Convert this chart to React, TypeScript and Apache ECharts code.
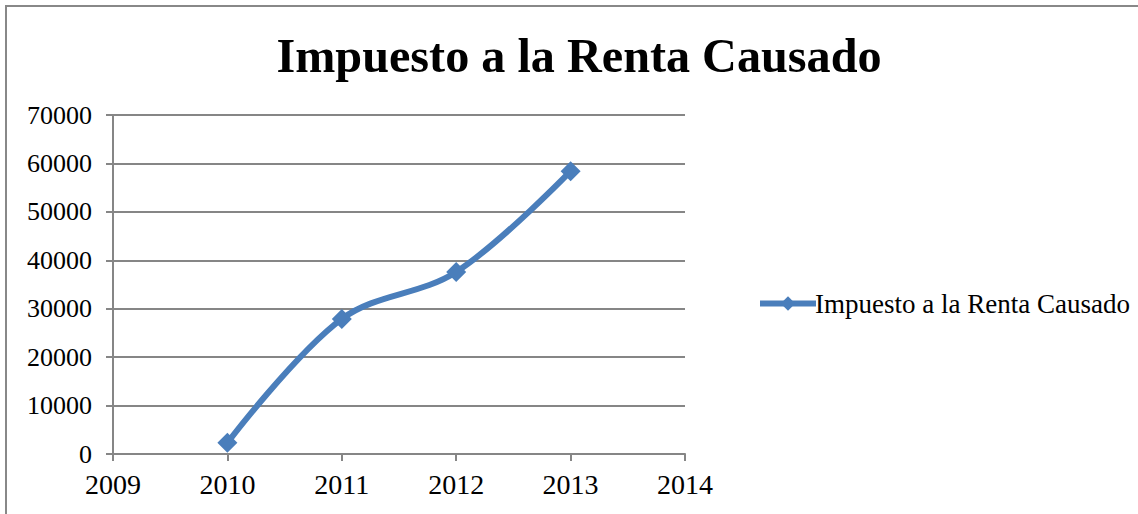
import React, { useEffect, useRef } from "react";
import * as echarts from "echarts";

const years = [2010, 2011, 2012, 2013];
const values = [2300, 27900, 37600, 58400];
const seriesName = "Impuesto a la Renta Causado";
const titleText = "Impuesto a la Renta Causado";

export default function App() {
  const ref = useRef<HTMLDivElement>(null);
  useEffect(() => {
    if (!ref.current) return;
    const chart = echarts.init(ref.current, null, { renderer: "svg" });
    const font = "'Liberation Serif', 'Times New Roman', serif";
    chart.setOption({
      animation: false,
      backgroundColor: "#ffffff",
      title: {
        text: titleText,
        left: 574,
        textAlign: "center",
        top: 26,
        textStyle: { fontFamily: font, fontSize: 48.2, fontWeight: "bold", color: "#000" },
      },
      legend: {
        left: 752,
        top: 285,
        itemWidth: 56,
        itemHeight: 18,
        itemGap: 0,
        lineStyle: { width: 6, color: "#4a7ebb" },
        itemStyle: { color: "#4a7ebb" },
        textStyle: { fontFamily: font, fontSize: 27, color: "#000", padding: [0, 0, 0, -6] },
        data: [{ name: seriesName }],
      },
      grid: { left: 113, right: 1138 - 685, top: 115, bottom: 514 - 454, containLabel: false },
      xAxis: {
        type: "value",
        min: 2009,
        max: 2014,
        interval: 1,
        axisLine: { show: true, lineStyle: { color: "#868686", width: 2 } },
        axisTick: { show: true, inside: false, length: 7, lineStyle: { color: "#868686", width: 2 } },
        axisLabel: { fontFamily: font, fontSize: 28, color: "#000", margin: 16, formatter: (v: number) => String(v) },
        splitLine: { show: false },
      },
      yAxis: {
        type: "value",
        min: 0,
        max: 70000,
        interval: 10000,
        axisLine: { show: true, lineStyle: { color: "#868686", width: 2 } },
        axisTick: { show: true, inside: false, length: 7, lineStyle: { color: "#868686", width: 2 } },
        axisLabel: { fontFamily: font, fontSize: 26, color: "#000", margin: 21, formatter: (v: number) => String(v) },
        splitLine: { show: true, lineStyle: { color: "#868686", width: 2 } },
      },
      series: [
        {
          name: seriesName,
          type: "line",
          smooth: 0.35,
          data: years.map((y, i) => [y, values[i]]),
          symbol: "diamond",
          symbolSize: 20,
          lineStyle: { color: "#4a7ebb", width: 6 },
          itemStyle: { color: "#4a7ebb" },
        },
      ],
      graphic: [
        { type: "line", shape: { x1: 5, y1: 6, x2: 1138, y2: 6 }, style: { stroke: "#888", lineWidth: 2 } },
        { type: "line", shape: { x1: 6, y1: 5, x2: 6, y2: 514 }, style: { stroke: "#888", lineWidth: 2 } },
      ],
    });
    return () => chart.dispose();
  }, []);
  return (
    <div
      ref={ref}
      style={{ position: "absolute", left: 0, top: 0, width: 1138, height: 514 }}
    />
  );
}
